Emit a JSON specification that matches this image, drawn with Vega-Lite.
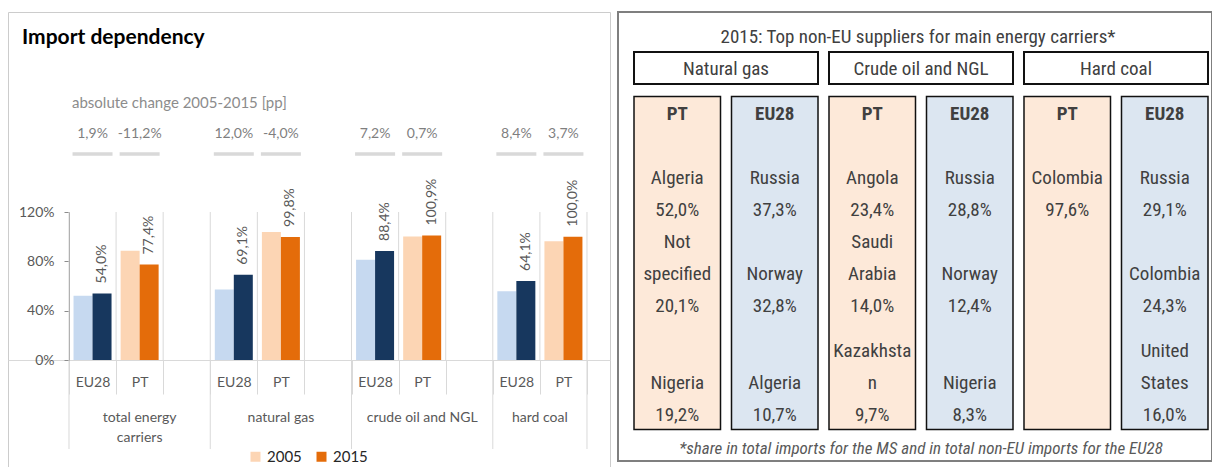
{
  "$schema": "https://vega.github.io/schema/vega-lite/v6.json",
  "padding": {"left": 7, "top": 11, "right": 0, "bottom": 0},
  "background": "white",
  "spacing": 6,
  "config": {
    "view": {"stroke": null},
    "locale": {"number": {"decimal": ",", "thousands": ".", "grouping": [3], "currency": ["", " €"], "minus": "-"}}
  },
  "datasets": {
    "bars": [
      {"slot": "EU28|total energy carriers", "carrier": "total energy carriers", "area": "EU28", "year": "2005", "value": 0.521},
      {"slot": "EU28|total energy carriers", "carrier": "total energy carriers", "area": "EU28", "year": "2015", "value": 0.540},
      {"slot": "PT|total energy carriers", "carrier": "total energy carriers", "area": "PT", "year": "2005", "value": 0.886},
      {"slot": "PT|total energy carriers", "carrier": "total energy carriers", "area": "PT", "year": "2015", "value": 0.774},
      {"slot": "EU28|natural gas", "carrier": "natural gas", "area": "EU28", "year": "2005", "value": 0.571},
      {"slot": "EU28|natural gas", "carrier": "natural gas", "area": "EU28", "year": "2015", "value": 0.691},
      {"slot": "PT|natural gas", "carrier": "natural gas", "area": "PT", "year": "2005", "value": 1.038},
      {"slot": "PT|natural gas", "carrier": "natural gas", "area": "PT", "year": "2015", "value": 0.998},
      {"slot": "EU28|crude oil and NGL", "carrier": "crude oil and NGL", "area": "EU28", "year": "2005", "value": 0.812},
      {"slot": "EU28|crude oil and NGL", "carrier": "crude oil and NGL", "area": "EU28", "year": "2015", "value": 0.884},
      {"slot": "PT|crude oil and NGL", "carrier": "crude oil and NGL", "area": "PT", "year": "2005", "value": 1.002},
      {"slot": "PT|crude oil and NGL", "carrier": "crude oil and NGL", "area": "PT", "year": "2015", "value": 1.009},
      {"slot": "EU28|hard coal", "carrier": "hard coal", "area": "EU28", "year": "2005", "value": 0.557},
      {"slot": "EU28|hard coal", "carrier": "hard coal", "area": "EU28", "year": "2015", "value": 0.641},
      {"slot": "PT|hard coal", "carrier": "hard coal", "area": "PT", "year": "2005", "value": 0.963},
      {"slot": "PT|hard coal", "carrier": "hard coal", "area": "PT", "year": "2015", "value": 1.000}
    ],
    "changes": [
      {"slot": "EU28|total energy carriers", "change": 0.019},
      {"slot": "PT|total energy carriers", "change": -0.112},
      {"slot": "EU28|natural gas", "change": 0.120},
      {"slot": "PT|natural gas", "change": -0.040},
      {"slot": "EU28|crude oil and NGL", "change": 0.072},
      {"slot": "PT|crude oil and NGL", "change": 0.007},
      {"slot": "EU28|hard coal", "change": 0.084},
      {"slot": "PT|hard coal", "change": 0.037}
    ],
    "slots": [
      {"slot": "EU28|total energy carriers"}, {"slot": "PT|total energy carriers"}, {"slot": "|gap1"},
      {"slot": "EU28|natural gas"}, {"slot": "PT|natural gas"}, {"slot": "|gap2"},
      {"slot": "EU28|crude oil and NGL"}, {"slot": "PT|crude oil and NGL"}, {"slot": "|gap3"},
      {"slot": "EU28|hard coal"}, {"slot": "PT|hard coal"}
    ],
    "carriers": [
      {"carrier": "Natural gas"}, {"carrier": "Crude oil and NGL"}, {"carrier": "Hard coal"}
    ],
    "columns": [
      {"column": "Natural gas|PT", "carrier": "Natural gas", "area": "PT"},
      {"column": "Natural gas|EU28", "carrier": "Natural gas", "area": "EU28"},
      {"column": "Crude oil and NGL|PT", "carrier": "Crude oil and NGL", "area": "PT"},
      {"column": "Crude oil and NGL|EU28", "carrier": "Crude oil and NGL", "area": "EU28"},
      {"column": "Hard coal|PT", "carrier": "Hard coal", "area": "PT"},
      {"column": "Hard coal|EU28", "carrier": "Hard coal", "area": "EU28"}
    ],
    "cells": [
      {"column": "Natural gas|PT", "row": 1, "text": "Algeria"},
      {"column": "Natural gas|PT", "row": 2, "text": "52,0%"},
      {"column": "Natural gas|PT", "row": 3, "text": "Not"},
      {"column": "Natural gas|PT", "row": 4, "text": "specified"},
      {"column": "Natural gas|PT", "row": 5, "text": "20,1%"},
      {"column": "Natural gas|PT", "row": 7, "text": "Nigeria"},
      {"column": "Natural gas|PT", "row": 8, "text": "19,2%"},
      {"column": "Natural gas|EU28", "row": 1, "text": "Russia"},
      {"column": "Natural gas|EU28", "row": 2, "text": "37,3%"},
      {"column": "Natural gas|EU28", "row": 4, "text": "Norway"},
      {"column": "Natural gas|EU28", "row": 5, "text": "32,8%"},
      {"column": "Natural gas|EU28", "row": 7, "text": "Algeria"},
      {"column": "Natural gas|EU28", "row": 8, "text": "10,7%"},
      {"column": "Crude oil and NGL|PT", "row": 1, "text": "Angola"},
      {"column": "Crude oil and NGL|PT", "row": 2, "text": "23,4%"},
      {"column": "Crude oil and NGL|PT", "row": 3, "text": "Saudi"},
      {"column": "Crude oil and NGL|PT", "row": 4, "text": "Arabia"},
      {"column": "Crude oil and NGL|PT", "row": 5, "text": "14,0%"},
      {"column": "Crude oil and NGL|PT", "row": 6, "text": "Kazakhsta"},
      {"column": "Crude oil and NGL|PT", "row": 7, "text": "n"},
      {"column": "Crude oil and NGL|PT", "row": 8, "text": "9,7%"},
      {"column": "Crude oil and NGL|EU28", "row": 1, "text": "Russia"},
      {"column": "Crude oil and NGL|EU28", "row": 2, "text": "28,8%"},
      {"column": "Crude oil and NGL|EU28", "row": 4, "text": "Norway"},
      {"column": "Crude oil and NGL|EU28", "row": 5, "text": "12,4%"},
      {"column": "Crude oil and NGL|EU28", "row": 7, "text": "Nigeria"},
      {"column": "Crude oil and NGL|EU28", "row": 8, "text": "8,3%"},
      {"column": "Hard coal|PT", "row": 1, "text": "Colombia"},
      {"column": "Hard coal|PT", "row": 2, "text": "97,6%"},
      {"column": "Hard coal|EU28", "row": 1, "text": "Russia"},
      {"column": "Hard coal|EU28", "row": 2, "text": "29,1%"},
      {"column": "Hard coal|EU28", "row": 4, "text": "Colombia"},
      {"column": "Hard coal|EU28", "row": 5, "text": "24,3%"},
      {"column": "Hard coal|EU28", "row": 6, "text": "United"},
      {"column": "Hard coal|EU28", "row": 7, "text": "States"},
      {"column": "Hard coal|EU28", "row": 8, "text": "16,0%"}
    ]
  },
  "hconcat": [
    {
      "width": 602,
      "height": 459,
      "view": {"stroke": "#cccccc", "strokeWidth": 1},
      "title": {"text": "Import dependency", "anchor": "start", "frame": "group", "offset": 0, "dx": 14, "dy": 53, "baseline": "alphabetic", "font": "Lato", "fontSize": 21, "fontWeight": "bold", "color": "#000000"},
      "resolve": {"scale": {"color": "independent"}},
      "layer": [
        {
          "data": {"name": "slots"},
          "mark": {"type": "rule", "color": "#d9d9d9", "strokeWidth": 1},
          "encoding": {
            "x": {
              "field": "slot", "type": "nominal", "sort": null, "bandPosition": 0,
              "scale": {"type": "band", "domain": ["EU28|total energy carriers", "PT|total energy carriers", "|gap1", "EU28|natural gas", "PT|natural gas", "|gap2", "EU28|crude oil and NGL", "PT|crude oil and NGL", "|gap3", "EU28|hard coal", "PT|hard coal"], "paddingInner": 0, "paddingOuter": 0.892, "align": 0.726},
              "axis": {"orient": "bottom", "offset": -111, "title": null, "labelExpr": "isString(datum.value) ? split(datum.value, '|')[0] : ''", "labelAngle": 0, "labelOverlap": false, "tickBand": "extent", "tickSize": 34, "tickColor": "#d9d9d9", "domainColor": "#d9d9d9", "labelPadding": -19, "labelFont": "Lato", "labelFontSize": 14, "labelColor": "#595959"}
            },
            "y": {
              "datum": 1.2, "type": "quantitative",
              "scale": {"domain": [0, 1.2], "range": [348, 200], "nice": false},
              "axis": {"orient": "left", "offset": -61, "title": null, "values": [0, 0.4, 0.8, 1.2], "format": ".0%", "grid": false, "domainColor": "#8c8c8c", "tickColor": "#8c8c8c", "tickSize": 5, "labelPadding": 10, "labelFont": "Lato", "labelFontSize": 14, "labelColor": "#595959"}
            },
            "y2": {"datum": 0}
          }
        },
        {
          "data": {"values": [{"slot": "PT|hard coal"}]},
          "mark": {"type": "rule", "color": "#d9d9d9", "strokeWidth": 1},
          "encoding": {
            "x": {"field": "slot", "type": "nominal", "bandPosition": 1},
            "y": {"datum": 1.2, "type": "quantitative"},
            "y2": {"datum": -0.722}
          }
        },
        {
          "data": {"values": [{"slot": "EU28|total energy carriers"}, {"slot": "EU28|natural gas"}, {"slot": "EU28|crude oil and NGL"}, {"slot": "EU28|hard coal"}]},
          "mark": {"type": "rule", "color": "#d9d9d9", "strokeWidth": 1},
          "encoding": {
            "x": {"field": "slot", "type": "nominal", "bandPosition": 0},
            "y": {"datum": 0, "type": "quantitative"},
            "y2": {"datum": -0.722}
          }
        },
        {
          "data": {"name": "bars"},
          "transform": [{"filter": "datum.area === 'EU28' && datum.year === '2005'"}],
          "mark": {"type": "bar", "width": {"band": 0.4035}, "xOffset": -9.5},
          "encoding": {
            "x": {"field": "slot", "type": "nominal"},
            "y": {"field": "value", "type": "quantitative"},
            "color": {"field": "year", "type": "nominal", "scale": {"domain": ["2005", "2015"], "range": ["#c6d9f0", "#17375e"]}, "legend": null}
          }
        },
        {
          "data": {"name": "bars"},
          "transform": [{"filter": "datum.area === 'EU28' && datum.year === '2015'"}],
          "mark": {"type": "bar", "width": {"band": 0.4035}, "xOffset": 9.5},
          "encoding": {
            "x": {"field": "slot", "type": "nominal"},
            "y": {"field": "value", "type": "quantitative"},
            "color": {"field": "year", "type": "nominal", "scale": {"domain": ["2005", "2015"], "range": ["#c6d9f0", "#17375e"]}, "legend": null}
          }
        },
        {
          "data": {"name": "bars"},
          "transform": [{"filter": "datum.area === 'PT' && datum.year === '2005'"}],
          "mark": {"type": "bar", "width": {"band": 0.4035}, "xOffset": -9.5},
          "encoding": {
            "x": {"field": "slot", "type": "nominal"},
            "y": {"field": "value", "type": "quantitative"},
            "color": {"field": "year", "type": "nominal", "scale": {"domain": ["2005", "2015"], "range": ["#fcd5b4", "#e46c0a"]},
              "legend": {"orient": "none", "legendX": 240, "legendY": 437, "direction": "horizontal", "title": null, "symbolType": "square", "symbolSize": 100, "symbolStrokeWidth": 0, "labelFont": "Lato", "labelFontSize": 15, "labelColor": "#262626", "labelOffset": 4, "columnPadding": 12, "padding": 0}}
          }
        },
        {
          "data": {"name": "bars"},
          "transform": [{"filter": "datum.area === 'PT' && datum.year === '2015'"}],
          "mark": {"type": "bar", "width": {"band": 0.4035}, "xOffset": 9.5},
          "encoding": {
            "x": {"field": "slot", "type": "nominal"},
            "y": {"field": "value", "type": "quantitative"},
            "color": {"field": "year", "type": "nominal", "scale": {"domain": ["2005", "2015"], "range": ["#fcd5b4", "#e46c0a"]}, "legend": null}
          }
        },
        {
          "data": {"name": "bars"},
          "transform": [{"filter": "datum.year === '2015'"}],
          "mark": {"type": "text", "angle": 270, "align": "left", "baseline": "middle", "dx": 10, "xOffset": 9.5, "font": "Lato", "fontSize": 14, "color": "#595959"},
          "encoding": {
            "x": {"field": "slot", "type": "nominal"},
            "y": {"field": "value", "type": "quantitative"},
            "text": {"field": "value", "type": "quantitative", "format": ".1%"}
          }
        },
        {
          "data": {"name": "changes"},
          "mark": {"type": "text", "align": "center", "baseline": "middle", "font": "Lato", "fontSize": 14, "color": "#7f7f7f"},
          "encoding": {
            "x": {"field": "slot", "type": "nominal"},
            "y": {"datum": 1.832, "type": "quantitative"},
            "text": {"field": "change", "type": "quantitative", "format": ".1%"}
          }
        },
        {
          "data": {"name": "changes"},
          "mark": {"type": "tick", "orient": "horizontal", "color": "#d9d9d9", "size": 40, "thickness": 3.5, "opacity": 1},
          "encoding": {
            "x": {"field": "slot", "type": "nominal"},
            "y": {"datum": 1.67, "type": "quantitative"}
          }
        },
        {
          "data": {"values": [{"slot": "EU28|total energy carriers", "label": "absolute change 2005-2015 [pp]"}]},
          "mark": {"type": "text", "align": "left", "baseline": "middle", "dx": 3, "font": "Lato", "fontSize": 15, "color": "#8c8c8c"},
          "encoding": {
            "x": {"field": "slot", "type": "nominal", "bandPosition": 0},
            "y": {"datum": 2.084, "type": "quantitative"},
            "text": {"field": "label"}
          }
        },
        {
          "data": {"values": [{"slot": "PT|total energy carriers", "label": "total energy\ncarriers"}, {"slot": "PT|natural gas", "label": "natural gas"}, {"slot": "PT|crude oil and NGL", "label": "crude oil and NGL"}]},
          "mark": {"type": "text", "align": "center", "baseline": "top", "lineBreak": "\n", "lineHeight": 20, "font": "Lato", "fontSize": 14, "color": "#595959"},
          "encoding": {
            "x": {"field": "slot", "type": "nominal"},
            "y": {"datum": -0.41, "type": "quantitative"},
            "text": {"field": "label"}
          }
        },
        {
          "data": {"values": [{"slot": "PT|hard coal", "label": "hard coal"}]},
          "mark": {"type": "text", "align": "center", "baseline": "top", "font": "Lato", "fontSize": 14, "color": "#595959"},
          "encoding": {
            "x": {"field": "slot", "type": "nominal", "bandPosition": 0},
            "y": {"datum": -0.41, "type": "quantitative"},
            "text": {"field": "label"}
          }
        }
      ]
    },
    {
      "width": 594,
      "height": 449,
      "view": {"stroke": "#7f7f7f", "strokeWidth": 2},
      "title": {"text": "2015: Top non-EU suppliers for main energy carriers*", "anchor": "middle", "frame": "group", "offset": 0, "dx": 3, "dy": 44, "baseline": "middle", "font": "Roboto Condensed, Lato", "fontSize": 19, "fontWeight": "normal", "color": "#404040"},
      "resolve": {"scale": {"x": "independent"}},
      "layer": [
        {
          "data": {"name": "carriers"},
          "mark": {"type": "rect", "fill": "#ffffff", "stroke": "#111111", "strokeWidth": 2},
          "encoding": {
            "x": {"field": "carrier", "type": "nominal", "sort": null, "scale": {"type": "band", "domain": ["Natural gas", "Crude oil and NGL", "Hard coal"], "paddingInner": 0.0564, "paddingOuter": 0.0513, "align": 0.8}, "axis": null},
            "y": {"datum": -2.94, "type": "quantitative", "scale": {"domain": [-4, 5, 6, 10], "range": [6, 294, 339, 467]}, "axis": null},
            "y2": {"datum": -1.94}
          }
        },
        {
          "data": {"name": "columns"},
          "mark": {"type": "rect", "stroke": "#111111", "strokeWidth": 1.5},
          "encoding": {
            "x": {"field": "column", "type": "nominal", "sort": null, "scale": {"type": "band", "domain": ["Natural gas|PT", "Natural gas|EU28", "Crude oil and NGL|PT", "Crude oil and NGL|EU28", "Hard coal|PT", "Hard coal|EU28"], "paddingInner": 0.1128, "paddingOuter": 0.1026, "align": 0.8}, "axis": null},
            "y": {"datum": -1.55, "type": "quantitative"},
            "y2": {"datum": 8.45},
            "color": {"field": "area", "type": "nominal", "scale": {"domain": ["PT", "EU28"], "range": ["#fde9d9", "#dce6f1"]}, "legend": null}
          }
        },
        {
          "data": {"name": "carriers"},
          "mark": {"type": "text", "align": "center", "baseline": "middle", "font": "Roboto Condensed, Lato", "fontSize": 19, "color": "#404040"},
          "encoding": {
            "x": {"field": "carrier", "type": "nominal", "sort": null, "scale": {"type": "band", "domain": ["Natural gas", "Crude oil and NGL", "Hard coal"], "paddingInner": 0.0564, "paddingOuter": 0.0513, "align": 0.8}, "axis": null},
            "y": {"datum": -2.4, "type": "quantitative"},
            "text": {"field": "carrier"}
          }
        },
        {
          "data": {"name": "columns"},
          "mark": {"type": "text", "align": "center", "baseline": "middle", "font": "Roboto Condensed, Lato", "fontSize": 19, "fontWeight": "bold", "color": "#404040"},
          "encoding": {
            "x": {"field": "column", "type": "nominal", "sort": null, "scale": {"type": "band", "domain": ["Natural gas|PT", "Natural gas|EU28", "Crude oil and NGL|PT", "Crude oil and NGL|EU28", "Hard coal|PT", "Hard coal|EU28"], "paddingInner": 0.1128, "paddingOuter": 0.1026, "align": 0.8}, "axis": null},
            "y": {"datum": -1, "type": "quantitative"},
            "text": {"field": "area"}
          }
        },
        {
          "data": {"name": "cells"},
          "mark": {"type": "text", "align": "center", "baseline": "middle", "font": "Roboto Condensed, Lato", "fontSize": 19, "color": "#404040"},
          "encoding": {
            "x": {"field": "column", "type": "nominal", "sort": null, "scale": {"type": "band", "domain": ["Natural gas|PT", "Natural gas|EU28", "Crude oil and NGL|PT", "Crude oil and NGL|EU28", "Hard coal|PT", "Hard coal|EU28"], "paddingInner": 0.1128, "paddingOuter": 0.1026, "align": 0.8}, "axis": null},
            "y": {"field": "row", "type": "quantitative"},
            "text": {"field": "text"}
          }
        },
        {
          "data": {"values": [{"carrier": "Crude oil and NGL", "note": "*share in total imports for the MS and in total non-EU imports for the EU28"}]},
          "mark": {"type": "text", "align": "center", "baseline": "middle", "font": "Roboto Condensed, Lato", "fontSize": 17, "fontStyle": "italic", "color": "#595959"},
          "encoding": {
            "x": {"field": "carrier", "type": "nominal", "sort": null, "scale": {"type": "band", "domain": ["Natural gas", "Crude oil and NGL", "Hard coal"], "paddingInner": 0.0564, "paddingOuter": 0.0513, "align": 0.8}, "axis": null},
            "y": {"datum": 9.05, "type": "quantitative"},
            "text": {"field": "note"}
          }
        }
      ]
    }
  ]
}
